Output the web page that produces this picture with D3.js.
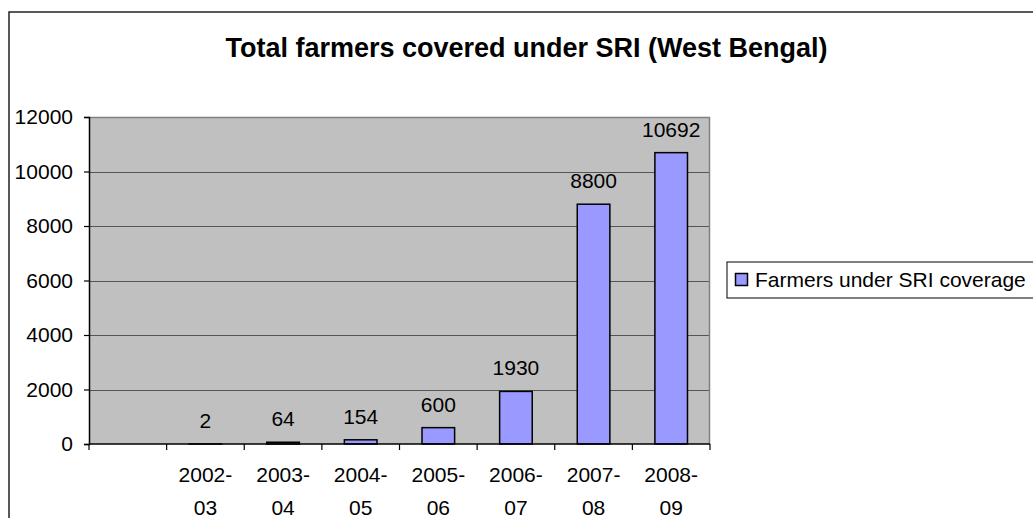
<!DOCTYPE html>
<html>
<head>
<meta charset="utf-8">
<script src="https://cdn.jsdelivr.net/npm/d3@7"></script>
<style>
  body { margin: 0; background: #fff; }
  svg { display: block; }
  text { font-family: "Liberation Sans", Arial, sans-serif; fill: #000; }
</style>
</head>
<body>
<script>
// Chart data
const titleText = "Total farmers covered under SRI (West Bengal)";
const seriesName = "Farmers under SRI coverage";
const categories = ["", "2002-03", "2003-04", "2004-05", "2005-06", "2006-07", "2007-08", "2008-09"];
const farmers = [null, 2, 64, 154, 600, 1930, 8800, 10692];
const yTicks = [0, 2000, 4000, 6000, 8000, 10000, 12000];

const W = 1033, H = 518;
const plot = { left: 89, right: 710, top: 117, bottom: 444 };

const svg = d3.select("body").append("svg")
  .attr("width", W).attr("height", H);

// Outer chart frame
svg.append("rect")
  .attr("x", 9).attr("y", 12)
  .attr("width", 1040).attr("height", 520)
  .attr("fill", "#fff").attr("stroke", "#222").attr("stroke-width", 1.5);

// Title
svg.append("text")
  .attr("x", 526.5).attr("y", 57)
  .attr("text-anchor", "middle")
  .attr("font-size", 27).attr("font-weight", "bold")
  .text(titleText);

const x = d3.scaleBand().domain(d3.range(categories.length))
  .range([plot.left, plot.right]).paddingInner(0).paddingOuter(0);
const y = d3.scaleLinear().domain([0, 12000]).range([plot.bottom, plot.top]);

// Plot area background
svg.append("rect")
  .attr("x", plot.left).attr("y", plot.top)
  .attr("width", plot.right - plot.left).attr("height", plot.bottom - plot.top)
  .attr("fill", "#c0c0c0");

// Horizontal gridlines
svg.append("g").selectAll("line")
  .data(yTicks.filter(t => t > 0 && t < 12000))
  .join("line")
  .attr("x1", plot.left).attr("x2", plot.right)
  .attr("y1", d => Math.round(y(d)) + 0.5).attr("y2", d => Math.round(y(d)) + 0.5)
  .attr("stroke", "#555").attr("stroke-width", 1);

// Plot border (top and right)
svg.append("path")
  .attr("d", `M${plot.left},${plot.top + 0.5}H${plot.right - 0.5}V${plot.bottom}`)
  .attr("fill", "none").attr("stroke", "#808080").attr("stroke-width", 1.5);

// Bars
const barW = x.bandwidth() * 0.42;
const bars = categories.map((c, i) => ({ i, c, v: farmers[i] })).filter(d => d.v != null);

svg.append("g").selectAll("rect")
  .data(bars)
  .join("rect")
  .attr("x", d => x(d.i) + (x.bandwidth() - barW) / 2)
  .attr("y", d => y(d.v))
  .attr("width", barW)
  .attr("height", d => y(0) - y(d.v))
  .attr("fill", "#9999ff").attr("stroke", "#000").attr("stroke-width", 1.5);

// Value labels above bars
svg.append("g").selectAll("text")
  .data(bars)
  .join("text")
  .attr("x", d => x(d.i) + x.bandwidth() / 2)
  .attr("y", d => y(d.v) - 16)
  .attr("text-anchor", "middle")
  .attr("font-size", 21)
  .text(d => d.v);

// Y axis
const yAxis = d3.axisLeft(y).tickValues(yTicks).tickSize(5).tickPadding(11)
  .tickFormat(d3.format("d"));
const gy = svg.append("g").attr("transform", `translate(${plot.left},0)`).call(yAxis);
gy.select(".domain").attr("stroke", "#000").attr("stroke-width", 1.5);
gy.selectAll(".tick line").attr("stroke", "#000").attr("stroke-width", 1.2);
gy.selectAll(".tick text").attr("font-size", 21).attr("font-family", null).attr("fill", "#000");

// X axis line and ticks at category boundaries
svg.append("line")
  .attr("x1", plot.left).attr("x2", plot.right)
  .attr("y1", plot.bottom).attr("y2", plot.bottom)
  .attr("stroke", "#000").attr("stroke-width", 1.5);

const boundaries = categories.map((c, i) => x(i)).concat([plot.right]);
svg.append("g").selectAll("line")
  .data(boundaries)
  .join("line")
  .attr("x1", d => d).attr("x2", d => d)
  .attr("y1", plot.bottom).attr("y2", plot.bottom + 6)
  .attr("stroke", "#000").attr("stroke-width", 1.2);

// Category labels, wrapped after the hyphen
const xl = svg.append("g").selectAll("text")
  .data(categories.map((c, i) => ({ c, i })).filter(d => d.c))
  .join("text")
  .attr("text-anchor", "middle")
  .attr("font-size", 21);
xl.each(function (d) {
  const parts = d.c.split("-");
  const cx = x(d.i) + x.bandwidth() / 2;
  const t = d3.select(this);
  t.append("tspan").attr("x", cx).attr("y", 482).text(parts[0] + "-");
  t.append("tspan").attr("x", cx).attr("y", 515).text(parts[1]);
});

// Legend
const lg = svg.append("g");
lg.append("rect")
  .attr("x", 727).attr("y", 262).attr("width", 330).attr("height", 36)
  .attr("fill", "#fff").attr("stroke", "#000").attr("stroke-width", 1);
lg.append("rect")
  .attr("x", 735.5).attr("y", 273.5).attr("width", 12).attr("height", 12)
  .attr("fill", "#9999ff").attr("stroke", "#000").attr("stroke-width", 1.5);
lg.append("text")
  .attr("x", 755).attr("y", 287)
  .attr("font-size", 21)
  .text(seriesName);
</script>
</body>
</html>
